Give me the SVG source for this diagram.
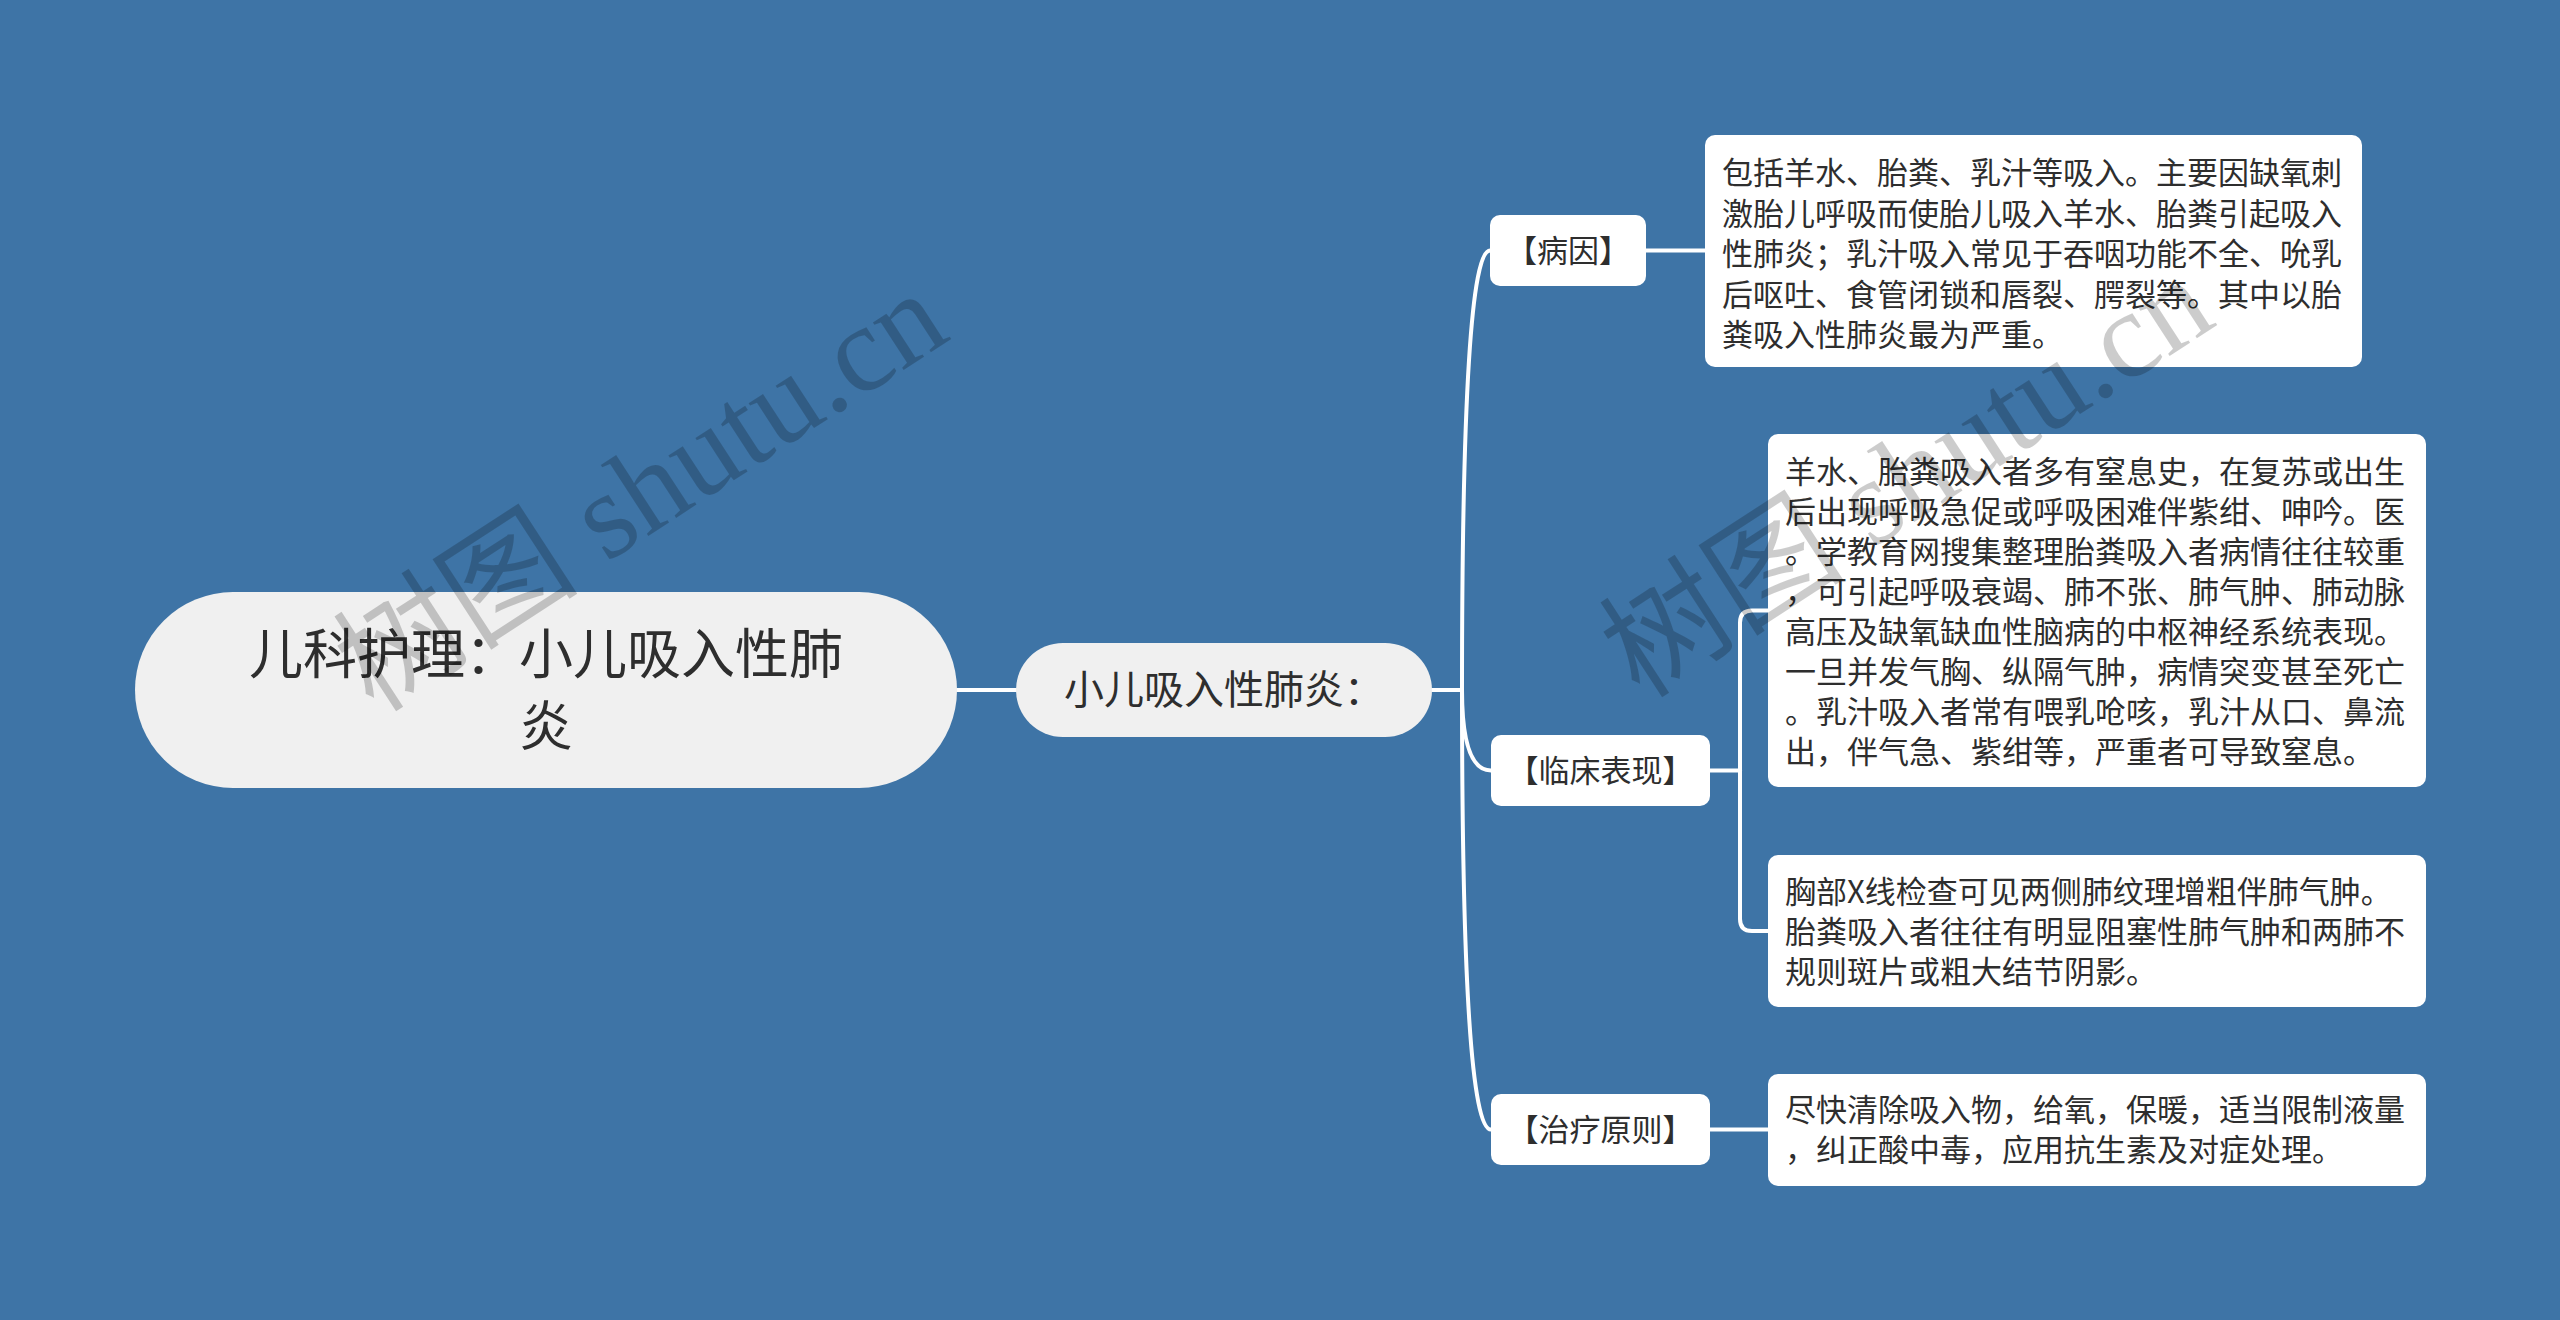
<svg xmlns="http://www.w3.org/2000/svg" width="2560" height="1320" viewBox="0 0 2560 1320">
<style>
.bg{fill:#3e74a6}
.root{fill:#f0f0f0}
.sub{fill:#f0f0f0}
.box{fill:#ffffff}
.t{font-family:"Noto Sans CJK SC","Noto Sans",sans-serif;fill:#2e2e2e}
.c{text-anchor:middle}
.rt{font-size:54px}
.st{font-size:40px}
.lt{font-size:31px}
.dt{font-size:31px}
.conn{fill:none;stroke:#ffffff;stroke-width:4;stroke-linecap:round}
.wm{font-family:"Liberation Serif","Noto Sans CJK SC",serif;font-size:123px;fill:#000000;fill-opacity:0.2}
</style>
<rect class="bg" x="0" y="0" width="2560" height="1320"/>
<g id="connectors">
<path class="conn" d="M957 690 H1016"/>
<path class="conn" d="M1432 690 H1462"/>
<path class="conn" d="M1462 690 Q1462 250.5 1490 250.5"/>
<path class="conn" d="M1462 690 Q1462 770.5 1491 770.5"/>
<path class="conn" d="M1462 690 Q1462 1129.5 1491 1129.5"/>
<path class="conn" d="M1646 250.5 H1705"/>
<path class="conn" d="M1710 1129.5 H1768"/>
<path class="conn" d="M1710 770.5 H1740"/>
<path class="conn" d="M1768 610.5 H1752 Q1740 610.5 1740 622.5 V919 Q1740 931 1752 931 H1768"/>
</g>
<g id="root">
<rect class="root" x="135" y="592" width="822" height="196" rx="98"/>
<text class="t c rt" x="546" y="674">儿科护理：小儿吸入性肺</text>
<text class="t c rt" x="546" y="746">炎</text>
</g>
<g id="sub">
<rect class="sub" x="1016" y="643" width="416" height="94" rx="47"/>
<text class="t c st" x="1224" y="704">小儿吸入性肺炎：</text>
</g>
<g id="n-bingyin">
<rect class="box" x="1490" y="215" width="156" height="71" rx="10"/>
<text class="t c lt" x="1568" y="262">【病因】</text>
</g>
<g id="n-linchuang">
<rect class="box" x="1491" y="735" width="219" height="71" rx="10"/>
<text class="t c lt" x="1600.5" y="782">【临床表现】</text>
</g>
<g id="n-zhiliao">
<rect class="box" x="1491" y="1094" width="219" height="71" rx="10"/>
<text class="t c lt" x="1600.5" y="1141">【治疗原则】</text>
</g>
<g id="d-bingyin">
<rect class="box" x="1705" y="135" width="657" height="232" rx="10"/>
<text class="t dt" x="1722">
<tspan x="1722" y="184">包括羊水、胎粪、乳汁等吸入。主要因缺氧刺</tspan>
<tspan x="1722" y="224.5">激胎儿呼吸而使胎儿吸入羊水、胎粪引起吸入</tspan>
<tspan x="1722" y="265">性肺炎；乳汁吸入常见于吞咽功能不全、吮乳</tspan>
<tspan x="1722" y="305.5">后呕吐、食管闭锁和唇裂、腭裂等。其中以胎</tspan>
<tspan x="1722" y="346">粪吸入性肺炎最为严重。</tspan>
</text>
</g>
<g id="d-linchuang1">
<rect class="box" x="1768" y="434" width="658" height="353" rx="10"/>
<text class="t dt" x="1785">
<tspan x="1785" y="483">羊水、胎粪吸入者多有窒息史，在复苏或出生</tspan>
<tspan x="1785" y="523">后出现呼吸急促或呼吸困难伴紫绀、呻吟。医</tspan>
<tspan x="1785" y="563">。学教育网搜集整理胎粪吸入者病情往往较重</tspan>
<tspan x="1785" y="603">，可引起呼吸衰竭、肺不张、肺气肿、肺动脉</tspan>
<tspan x="1785" y="643">高压及缺氧缺血性脑病的中枢神经系统表现。</tspan>
<tspan x="1785" y="683">一旦并发气胸、纵隔气肿，病情突变甚至死亡</tspan>
<tspan x="1785" y="723">。乳汁吸入者常有喂乳呛咳，乳汁从口、鼻流</tspan>
<tspan x="1785" y="763">出，伴气急、紫绀等，严重者可导致窒息。</tspan>
</text>
</g>
<g id="d-linchuang2">
<rect class="box" x="1768" y="855" width="658" height="152" rx="10"/>
<text class="t dt" x="1785">
<tspan x="1785" y="903">胸部X线检查可见两侧肺纹理增粗伴肺气肿。</tspan>
<tspan x="1785" y="943">胎粪吸入者往往有明显阻塞性肺气肿和两肺不</tspan>
<tspan x="1785" y="983">规则斑片或粗大结节阴影。</tspan>
</text>
</g>
<g id="d-zhiliao">
<rect class="box" x="1768" y="1074" width="658" height="112" rx="10"/>
<text class="t dt" x="1785">
<tspan x="1785" y="1121">尽快清除吸入物，给氧，保暖，适当限制液量</tspan>
<tspan x="1785" y="1161">，纠正酸中毒，应用抗生素及对症处理。</tspan>
</text>
</g>
<g id="watermarks">
<text class="wm" x="374" y="714" transform="rotate(-33 374 714)">树图 shutu.cn</text>
<text class="wm" x="1640" y="700" transform="rotate(-33 1640 700)">树图 shutu.cn</text>
</g>
</svg>
